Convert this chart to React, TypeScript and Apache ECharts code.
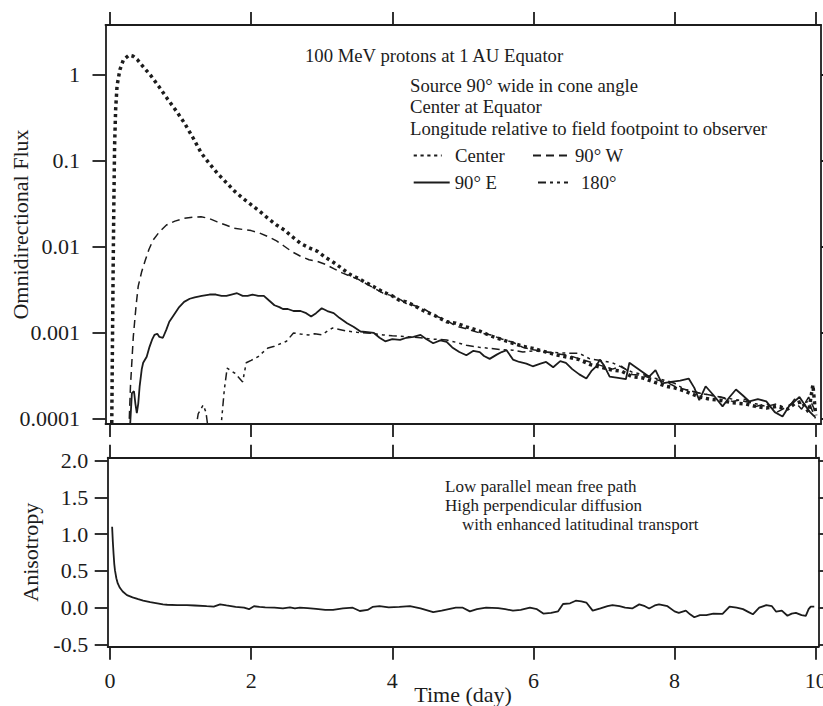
import { useEffect, useRef } from "react"
import * as echarts from "echarts"

const SERIF = "Liberation Serif"
const INK = "#1c1c1c"

// [time (day), omnidirectional flux]
const centerFlux: [number, number][] = [
  [0.02, 0.00003], [0.035, 0.0008], [0.045, 0.006], [0.055, 0.035], [0.065, 0.15],
  [0.08, 0.4], [0.1, 0.75], [0.14, 1.15], [0.19, 1.5], [0.27, 1.7], [0.33, 1.65],
  [0.39, 1.5], [0.48, 1.22], [0.58, 0.98], [0.7, 0.72], [0.82, 0.52], [0.94, 0.38],
  [1.05, 0.28], [1.17, 0.19], [1.29, 0.125], [1.4, 0.095], [1.52, 0.072], [1.64, 0.057],
  [1.76, 0.045], [1.88, 0.037], [2.0, 0.031], [2.12, 0.026], [2.24, 0.0215], [2.36, 0.018],
  [2.47, 0.0158], [2.58, 0.0132], [2.7, 0.011], [2.82, 0.0098], [2.94, 0.0089], [3.05, 0.0076],
  [3.17, 0.0066], [3.29, 0.0056], [3.4, 0.0048], [3.52, 0.0043], [3.64, 0.0038], [3.75, 0.0034],
  [3.87, 0.003], [4.0, 0.0027], [4.1, 0.0024], [4.2, 0.0023], [4.3, 0.0021], [4.45, 0.0018],
  [4.6, 0.0016], [4.77, 0.00135], [4.9, 0.0013], [5.05, 0.00118], [5.24, 0.00105], [5.4, 0.00092],
  [5.55, 0.00084], [5.71, 0.00076], [5.85, 0.0007], [6.0, 0.00066], [6.18, 0.0006], [6.35, 0.00055],
  [6.5, 0.00052], [6.65, 0.00049], [6.8, 0.00043], [6.95, 0.0004], [7.12, 0.00037], [7.25, 0.00036],
  [7.4, 0.00031], [7.55, 0.0003], [7.7, 0.00027], [7.88, 0.00024], [8.0, 0.00023], [8.15, 0.00021],
  [8.35, 0.00018], [8.5, 0.00017], [8.65, 0.000165], [8.82, 0.000154], [9.0, 0.00015], [9.15, 0.00014],
  [9.3, 0.000134], [9.45, 0.00014], [9.6, 0.00013], [9.7, 0.00015], [9.8, 0.00016], [9.9, 0.00012],
  [9.96, 0.00025], [10.0, 0.00011],
]

const westFlux: [number, number][] = [
  [0.26, 0.00005], [0.29, 0.00024], [0.33, 0.0009], [0.37, 0.0021], [0.4, 0.0035], [0.45, 0.0052],
  [0.5, 0.007], [0.55, 0.0093], [0.61, 0.012], [0.7, 0.015], [0.8, 0.018], [0.92, 0.02],
  [1.05, 0.0215], [1.17, 0.0222], [1.29, 0.0225], [1.4, 0.0215], [1.52, 0.0196], [1.64, 0.018],
  [1.76, 0.0165], [1.88, 0.016], [2.0, 0.0155], [2.12, 0.0145], [2.24, 0.0132], [2.36, 0.0118],
  [2.47, 0.0102], [2.58, 0.0088], [2.7, 0.0078], [2.82, 0.0071], [2.94, 0.0068], [3.05, 0.0063],
  [3.17, 0.0056], [3.29, 0.005], [3.4, 0.0046], [3.52, 0.0042], [3.64, 0.0037], [3.75, 0.0033],
  [3.87, 0.0029], [4.0, 0.0027], [4.1, 0.0025], [4.2, 0.0022], [4.3, 0.0021], [4.45, 0.0019],
  [4.6, 0.0016], [4.77, 0.0014], [4.9, 0.0012], [5.05, 0.00112], [5.24, 0.001], [5.4, 0.00095],
  [5.55, 0.00085], [5.71, 0.00078], [5.85, 0.00068], [6.0, 0.00064], [6.18, 0.0006], [6.35, 0.00057],
  [6.5, 0.00055], [6.65, 0.0005], [6.8, 0.00046], [6.95, 0.00042], [7.12, 0.00038], [7.25, 0.00041],
  [7.4, 0.00033], [7.55, 0.00032], [7.7, 0.00029], [7.88, 0.00027], [8.0, 0.00024], [8.15, 0.00022],
  [8.35, 0.0002], [8.5, 0.00019], [8.65, 0.00018], [8.82, 0.00016], [9.0, 0.00017], [9.15, 0.00014],
  [9.3, 0.00015], [9.45, 0.00012], [9.6, 0.00014], [9.7, 0.00016], [9.8, 0.00013], [9.9, 0.00018],
  [10.0, 0.00012],
]

const eastFlux: [number, number][] = [
  [0.27, 0.00005], [0.31, 0.0002], [0.34, 0.00021], [0.36, 0.00015], [0.38, 0.000117], [0.4, 0.00015],
  [0.42, 0.00024], [0.45, 0.00038], [0.47, 0.00045], [0.52, 0.00053], [0.56, 0.00069], [0.6, 0.00085],
  [0.63, 0.00095], [0.67, 0.00098], [0.7, 0.0009], [0.75, 0.00088], [0.8, 0.0011], [0.84, 0.00135],
  [0.9, 0.0016], [0.98, 0.002], [1.05, 0.0023], [1.13, 0.0025], [1.2, 0.0026], [1.3, 0.0027],
  [1.41, 0.0028], [1.5, 0.0028], [1.58, 0.0027], [1.65, 0.0027], [1.72, 0.0028], [1.8, 0.0029],
  [1.88, 0.0027], [1.95, 0.0027], [2.02, 0.0028], [2.1, 0.0027], [2.18, 0.0027], [2.25, 0.0024],
  [2.33, 0.0021], [2.4, 0.002], [2.45, 0.0019], [2.52, 0.0019], [2.6, 0.0018], [2.7, 0.0018],
  [2.78, 0.0017], [2.85, 0.00155], [2.92, 0.0017], [3.0, 0.00194], [3.08, 0.0018], [3.17, 0.0017],
  [3.25, 0.0015], [3.36, 0.0013], [3.45, 0.00118], [3.55, 0.00104], [3.65, 0.00102], [3.74, 0.001],
  [3.82, 0.00088], [3.9, 0.0008], [4.0, 0.00085], [4.11, 0.00083], [4.2, 0.00088], [4.3, 0.0009],
  [4.4, 0.00095], [4.48, 0.00085], [4.58, 0.00076], [4.68, 0.00082], [4.77, 0.00079], [4.85, 0.00068],
  [4.95, 0.0006], [5.05, 0.00055], [5.15, 0.00062], [5.24, 0.0006], [5.3, 0.00054], [5.38, 0.0005],
  [5.48, 0.00056], [5.55, 0.0006], [5.62, 0.00063], [5.71, 0.00049], [5.8, 0.00046], [5.9, 0.00044],
  [5.99, 0.00041], [6.1, 0.00044], [6.18, 0.00046], [6.28, 0.0004], [6.38, 0.00047], [6.46, 0.00045],
  [6.55, 0.00038], [6.65, 0.00033], [6.75, 0.000295], [6.82, 0.00036], [6.89, 0.00041], [6.94, 0.00049],
  [7.0, 0.00042], [7.08, 0.00031], [7.2, 0.0003], [7.31, 0.00029], [7.36, 0.00045], [7.45, 0.0004],
  [7.55, 0.00035], [7.64, 0.00031], [7.73, 0.00037], [7.82, 0.00026], [7.95, 0.00027], [8.08, 0.00028],
  [8.2, 0.000295], [8.28, 0.00023], [8.35, 0.000166], [8.44, 0.00024], [8.55, 0.00019], [8.68, 0.00014],
  [8.78, 0.00018], [8.87, 0.00022], [8.96, 0.00019], [9.06, 0.00016], [9.18, 0.00017], [9.3, 0.00016],
  [9.42, 0.00012], [9.53, 0.000107], [9.62, 0.00014], [9.7, 0.00016], [9.77, 0.00018], [9.86, 0.00014],
  [9.92, 0.00012], [9.98, 0.000107],
]

const oppositeFlux: [number, number][] = [
  [1.18, 0.00005], [1.25, 0.000115], [1.32, 0.000145], [1.36, 0.00012], [1.42, 0.00005], [1.55, 0.00005],
  [1.62, 0.00022], [1.66, 0.00039], [1.72, 0.00036], [1.77, 0.00034], [1.83, 0.0003], [1.88, 0.00027],
  [1.93, 0.00045], [2.0, 0.00048], [2.1, 0.00053], [2.17, 0.0006], [2.24, 0.00067], [2.33, 0.0007],
  [2.43, 0.00076], [2.5, 0.0008], [2.6, 0.001], [2.7, 0.00097], [2.81, 0.00095], [2.9, 0.00098],
  [3.0, 0.00095], [3.08, 0.00105], [3.15, 0.00114], [3.25, 0.0011], [3.36, 0.00105], [3.5, 0.00102],
  [3.64, 0.001], [3.75, 0.00098], [3.87, 0.00095], [4.0, 0.00093], [4.1, 0.00092], [4.25, 0.0009],
  [4.4, 0.00088], [4.55, 0.00085], [4.77, 0.00083], [4.9, 0.00078], [5.05, 0.00072], [5.24, 0.00068],
  [5.4, 0.00066], [5.55, 0.00064], [5.71, 0.00063], [5.85, 0.0006], [6.0, 0.00062], [6.18, 0.0006],
  [6.35, 0.00059], [6.5, 0.00058], [6.65, 0.00058], [6.8, 0.0005], [6.95, 0.00048], [7.12, 0.00045],
  [7.25, 0.0004], [7.4, 0.00035], [7.55, 0.00033], [7.7, 0.0003], [7.88, 0.00028], [8.0, 0.00026],
  [8.15, 0.00022], [8.35, 0.0002], [8.5, 0.00019], [8.65, 0.00018], [8.82, 0.00017], [9.0, 0.00016],
  [9.15, 0.00015], [9.3, 0.00014], [9.45, 0.00015], [9.6, 0.00013], [9.7, 0.00017], [9.8, 0.00015],
  [9.9, 0.00016], [9.96, 0.00012], [10.0, 0.0001],
]

// [time (day), anisotropy]
const anisotropy: [number, number][] = [
  [0.03, 1.1], [0.04, 0.9], [0.05, 0.74], [0.06, 0.6], [0.07, 0.51], [0.09, 0.4], [0.11, 0.33],
  [0.14, 0.27], [0.18, 0.22], [0.24, 0.17], [0.32, 0.14], [0.4, 0.115], [0.47, 0.095], [0.57, 0.075],
  [0.67, 0.06], [0.75, 0.045], [0.81, 0.04], [0.95, 0.035], [1.09, 0.035], [1.2, 0.03], [1.37, 0.02],
  [1.47, 0.015], [1.56, 0.045], [1.65, 0.03], [1.78, 0.01], [1.9, 0.0], [1.97, -0.02], [2.04, 0.02],
  [2.12, 0.01], [2.2, 0.005], [2.33, 0.0], [2.45, -0.01], [2.55, 0.005], [2.62, -0.01], [2.69, 0.0],
  [2.8, -0.005], [2.92, -0.015], [3.05, -0.03], [3.16, -0.03], [3.3, -0.01], [3.44, 0.0], [3.54, -0.045],
  [3.65, -0.03], [3.72, 0.01], [3.82, 0.02], [3.95, 0.005], [4.1, 0.01], [4.25, 0.02], [4.4, -0.01],
  [4.58, -0.06], [4.7, -0.04], [4.9, 0.0], [5.0, 0.0], [5.1, -0.05], [5.2, -0.02], [5.33, 0.0],
  [5.5, -0.005], [5.6, -0.02], [5.71, -0.04], [5.82, -0.03], [5.95, 0.0], [6.05, -0.02], [6.14, -0.08],
  [6.25, -0.07], [6.35, -0.05], [6.42, 0.05], [6.52, 0.06], [6.6, 0.095], [6.68, 0.085], [6.75, 0.07],
  [6.84, -0.04], [6.95, -0.01], [7.05, 0.02], [7.12, 0.035], [7.22, 0.02], [7.3, 0.0], [7.4, -0.01],
  [7.5, 0.045], [7.58, 0.02], [7.64, -0.01], [7.72, 0.03], [7.78, 0.045], [7.9, 0.02], [8.0, -0.05],
  [8.06, -0.07], [8.16, -0.04], [8.22, -0.09], [8.28, -0.13], [8.36, -0.1], [8.45, -0.1], [8.55, -0.08],
  [8.68, -0.085], [8.78, 0.015], [8.88, 0.0], [8.97, -0.02], [9.05, -0.06], [9.11, -0.09], [9.2, 0.0],
  [9.3, 0.035], [9.38, 0.02], [9.44, -0.055], [9.52, -0.04], [9.6, -0.11], [9.66, -0.08], [9.72, -0.07],
  [9.8, -0.1], [9.86, -0.11], [9.9, -0.02], [9.93, 0.015], [9.98, 0.015],
]

const dayTicks = [0, 2, 4, 6, 8, 10]
const fluxTicks = [0.0001, 0.001, 0.01, 0.1, 1]
const anisoTicks = [-0.5, 0, 0.5, 1, 1.5, 2]

const title = "100 MeV protons at 1 AU Equator"
const sourceNotes = [
  "Source 90° wide in cone angle",
  "Center at Equator",
  "Longitude relative to field footpoint to observer",
]
const transportNotes = [
  "Low parallel mean free path",
  "High perpendicular diffusion",
  "    with enhanced latitudinal transport",
]

const frame = { show: true, onZero: false, lineStyle: { color: INK, width: 1.8 } }
const ticks = (values: number[]) => ({
  show: true,
  length: 13,
  customValues: values,
  lineStyle: { color: INK, width: 1.8 },
})
const labelFont = { fontFamily: SERIF, fontSize: 22, color: INK }

const note = (text: string, x: number, y: number, size: number) => ({
  type: "text",
  x,
  y,
  style: {
    text,
    fill: INK,
    fontFamily: SERIF,
    fontSize: size,
    verticalAlign: "middle",
    textVerticalAlign: "middle",
  },
})

const legendAt = (name: string, left: number, top: number, itemWidth: number, pad: number) => ({
  data: [name],
  left,
  top,
  padding: 0,
  itemWidth,
  itemHeight: 14,
  selectedMode: false,
  itemStyle: { opacity: 0, color: "transparent", borderWidth: 0 },
  textStyle: { fontFamily: SERIF, fontSize: 18.7, color: INK, padding: [0, 0, 0, pad] },
})

export default function App() {
  const chartRef = useRef<HTMLDivElement>(null)

  useEffect(() => {
    if (!chartRef.current) return
    const chart = echarts.init(chartRef.current, null, { renderer: "svg" })

    const option = {
      animation: false,
      grid: [
        { left: 105.5, top: 25, width: 715.5, height: 399, outerBoundsMode: "none", containLabel: false },
        { left: 107.7, top: 457.7, width: 710.8, height: 189, outerBoundsMode: "none", containLabel: false },
      ],
      xAxis: [
        {
          type: "value", gridIndex: 0, position: "bottom", min: -0.0638, max: 10.075,
          axisLine: frame, axisTick: ticks(dayTicks), axisLabel: { show: false }, splitLine: { show: false },
        },
        {
          type: "value", gridIndex: 0, position: "top", min: -0.0638, max: 10.075,
          axisLine: frame, axisTick: ticks(dayTicks), axisLabel: { show: false }, splitLine: { show: false },
        },
        {
          type: "value", gridIndex: 1, position: "bottom", min: -0.0326, max: 10.04,
          axisLine: frame, axisTick: ticks(dayTicks),
          axisLabel: { ...labelFont, margin: 23, customValues: dayTicks },
          splitLine: { show: false },
          name: "Time (day)", nameLocation: "middle", nameGap: 37, nameMoveOverlap: false,
          nameTextStyle: labelFont,
        },
        {
          type: "value", gridIndex: 1, position: "top", min: -0.0326, max: 10.04,
          axisLine: frame, axisTick: ticks(dayTicks), axisLabel: { show: false }, splitLine: { show: false },
        },
      ],
      yAxis: [
        {
          type: "log", logBase: 10, gridIndex: 0, position: "left", min: 0.0000874, max: 3.814,
          axisLine: frame, axisTick: ticks(fluxTicks),
          axisLabel: {
            ...labelFont, margin: 25.5, customValues: fluxTicks,
            formatter: (v: number) => String(parseFloat(Number(v).toPrecision(3))),
          },
          splitLine: { show: false },
          name: "Omnidirectional Flux", nameLocation: "middle", nameGap: 74, nameRotate: 90,
          nameMoveOverlap: false, nameTextStyle: labelFont,
        },
        {
          type: "log", logBase: 10, gridIndex: 0, position: "right", min: 0.0000874, max: 3.814,
          axisLine: frame, axisTick: ticks(fluxTicks), axisLabel: { show: false }, splitLine: { show: false },
        },
        {
          type: "value", gridIndex: 1, position: "left", min: -0.53, max: 2.038,
          axisLine: frame, axisTick: ticks(anisoTicks),
          axisLabel: {
            ...labelFont, margin: 19.5, customValues: anisoTicks,
            formatter: (v: number) => Number(v).toFixed(1),
          },
          splitLine: { show: false },
          name: "Anisotropy", nameLocation: "middle", nameGap: 66, nameRotate: 90,
          nameMoveOverlap: false, nameTextStyle: labelFont,
        },
        {
          type: "value", gridIndex: 1, position: "right", min: -0.53, max: 2.038,
          axisLine: frame, axisTick: ticks(anisoTicks), axisLabel: { show: false }, splitLine: { show: false },
        },
      ],
      legend: [
        legendAt("Center", 412.7, 146, 28, 8.3),
        legendAt("90° W", 532, 146, 37, 0),
        legendAt("90° E", 412.7, 173, 36, 0),
        legendAt("180°", 537, 173, 30, 8),
      ],
      graphic: [
        note(title, 305, 55, 18.7),
        ...sourceNotes.map((t, i) => note(t, 410, 85 + i * 21.6, 18.7)),
        ...transportNotes.map((t, i) => note(t, 445, 486.7 + i * 18.8, 17)),
      ],
      series: [
        {
          name: "Center", type: "line", xAxisIndex: 0, yAxisIndex: 0, data: centerFlux,
          symbol: "none", itemStyle: { color: INK },
          lineStyle: { color: INK, width: 3.5, type: [3.2, 3.6] },
        },
        {
          name: "90° W", type: "line", xAxisIndex: 0, yAxisIndex: 0, data: westFlux,
          symbol: "none", itemStyle: { color: INK },
          lineStyle: { color: INK, width: 1.5, type: [8, 5] },
        },
        {
          name: "90° E", type: "line", xAxisIndex: 0, yAxisIndex: 0, data: eastFlux,
          symbol: "none", itemStyle: { color: INK },
          lineStyle: { color: INK, width: 1.8, type: "solid" },
        },
        {
          name: "180°", type: "line", xAxisIndex: 0, yAxisIndex: 0, data: oppositeFlux,
          symbol: "none", itemStyle: { color: INK },
          lineStyle: { color: INK, width: 1.5, type: [8, 4, 3, 4, 3, 4] },
        },
        {
          name: "Anisotropy", type: "line", xAxisIndex: 2, yAxisIndex: 2, data: anisotropy,
          symbol: "none", itemStyle: { color: INK },
          lineStyle: { color: INK, width: 1.8 },
        },
      ],
    }

    chart.setOption(option as echarts.EChartsOption)
    return () => chart.dispose()
  }, [])

  return (
    <div
      ref={chartRef}
      style={{ position: "fixed", left: 0, top: 0, width: 823, height: 706, background: "#fff" }}
    />
  )
}
